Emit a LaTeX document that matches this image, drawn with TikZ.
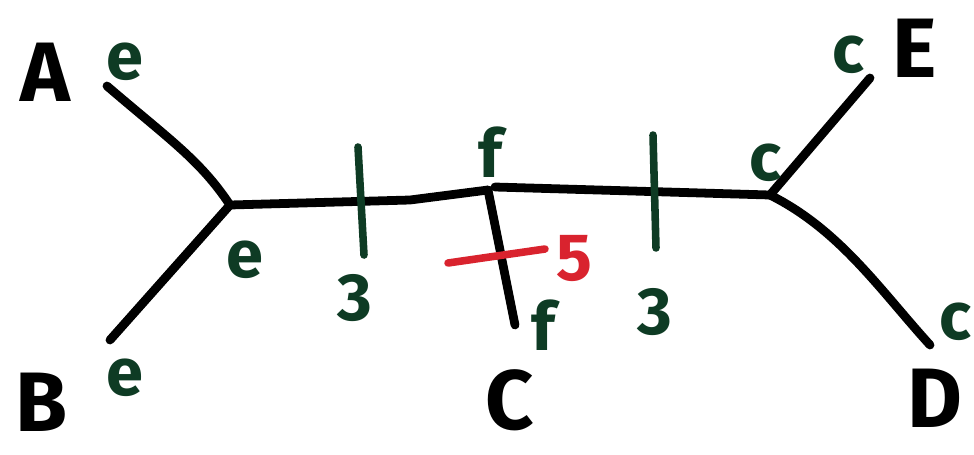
\documentclass[tikz,border=0pt]{standalone}
\usepackage{fontspec}
\newfontfamily\handfont{Fira Sans}
\definecolor{markgreen}{HTML}{0E3B24}
\definecolor{markred}{HTML}{D9232E}
\tikzset{
  branch/.style={line width=5pt, line cap=round, line join=round},
  tickmark/.style={line width=4.3pt, line cap=round, markgreen},
  taxon/.style={font=\handfont\bfseries\fontsize{48}{48}\selectfont, inner sep=0pt},
  state/.style={font=\handfont\bfseries\fontsize{38}{38}\selectfont, text=markgreen, inner sep=0pt},
}
\begin{document}
\begin{tikzpicture}[x=0.02cm,y=-0.02cm]
\useasboundingbox (0,0) rectangle (974,454);
% tips and inner nodes of the tree
\coordinate (tipA) at (107,86);
\coordinate (tipB) at (110,340);
\coordinate (tipC) at (515,325);
\coordinate (tipD) at (930,345);
\coordinate (tipE) at (870,78);
\coordinate (left) at (230,205);
\coordinate (kink) at (410,200);
\coordinate (mid) at (488,190);
\coordinate (midr) at (495,187);
\coordinate (right) at (770,195);

% branches
\draw[branch] (tipA) .. controls (170,140) and (200,160) .. (left);
\draw[branch] (left) -- (tipB);
\draw[branch] (left) -- (kink) -- (mid);
\draw[branch] (mid) -- (tipC);
\draw[branch] (midr) -- (right);
\draw[branch] (right) -- (tipE);
\draw[branch] (right) .. controls (840,230) and (880,290) .. (tipD);

% changes on the branches
\coordinate (t1a) at (358,147); \coordinate (t1b) at (364,255);
\coordinate (t2a) at (653,135); \coordinate (t2b) at (656,248);
\coordinate (t3a) at (448,263); \coordinate (t3b) at (545,249);
\draw[tickmark] (t1a) -- (t1b);
\draw[tickmark] (t2a) -- (t2b);
\draw[tickmark,markred] (t3a) -- (t3b);
\node[state] (n1) at (355,298) {3};
\node[state] (n2) at (655,312) {3};
\node[state,text=markred] (n3) at (574,258) {5};

% taxa
\node[taxon] (A) at (45,72) {A};
\node[taxon] (B) at (42,402) {B};
\node[taxon] (C) at (510,400) {C};
\node[taxon] (D) at (935,398) {D};
\node[taxon] (E) at (915,48) {E};

% states
\node[state] (sA) at (125,62) {e};
\node[state] (sB) at (125,378) {e};
\node[state] (sL) at (245,260) {e};
\node[state] (sM) at (490,152) {f};
\node[state] (sC) at (543,325) {f};
\node[state] (sR) at (765,163) {c};
\node[state] (sE) at (848,55) {c};
\node[state] (sD) at (955,322) {c};
\end{tikzpicture}
\end{document}
